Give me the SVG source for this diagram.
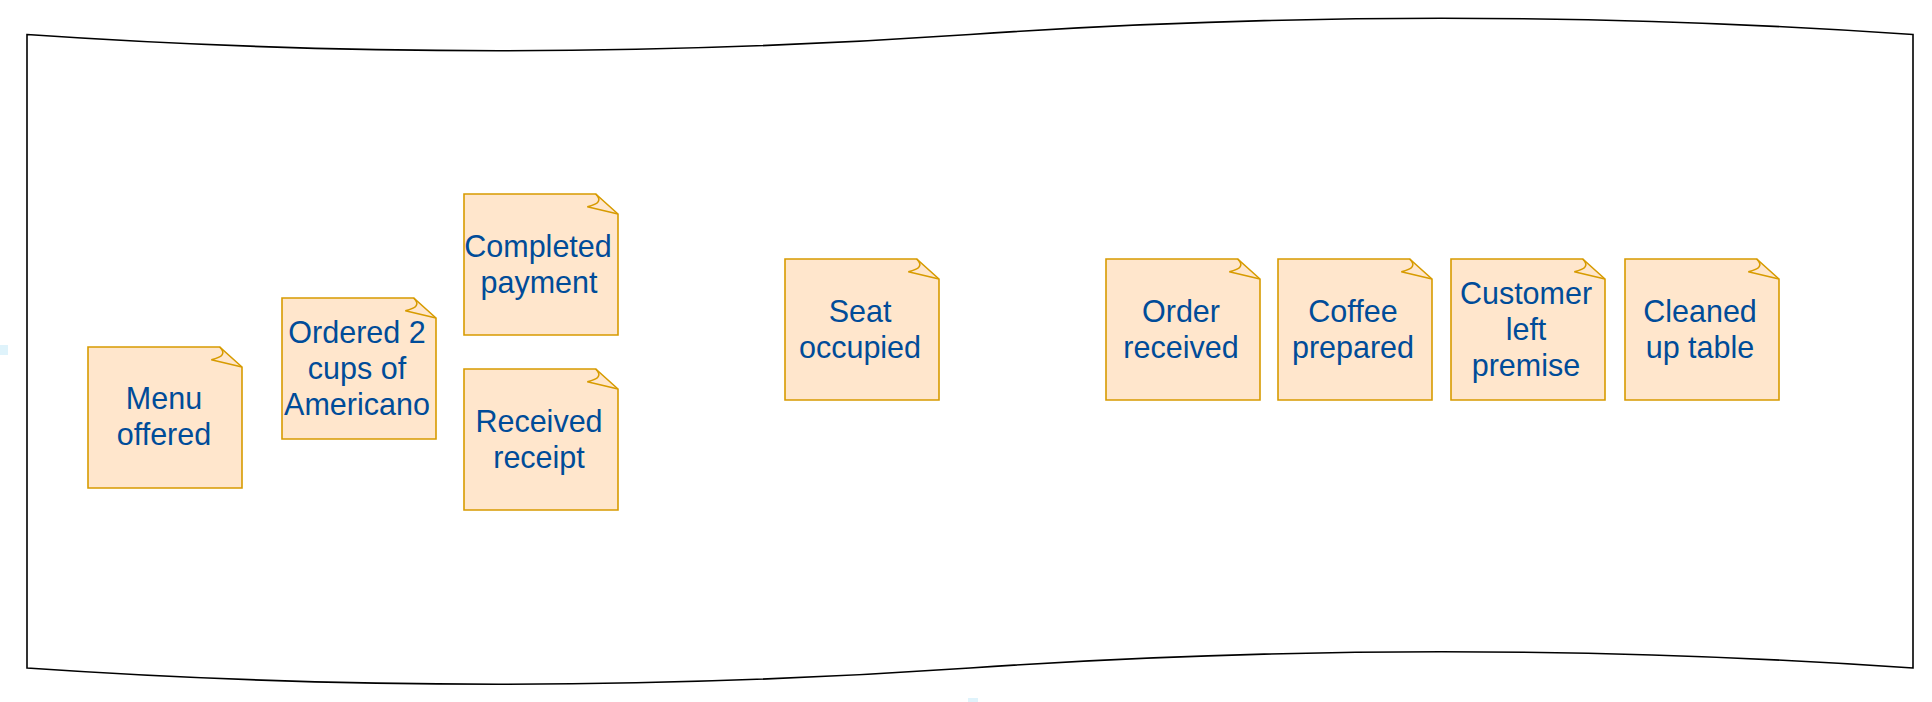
<svg xmlns="http://www.w3.org/2000/svg" width="1932" height="702" viewBox="0 0 1932 702">
<style>
.frame{fill:#ffffff;stroke:#000000;stroke-width:1.6}
.note{fill:#ffe6cc;stroke:#d79b00;stroke-width:1.6;stroke-linejoin:miter}
.fold{fill:none;stroke:#d79b00;stroke-width:1.6}
.lbl{font-family:"Liberation Sans",Arial,Helvetica,sans-serif;font-size:30.5px;fill:#004c99;text-anchor:middle}
.hint{fill:#dff3fb}
</style>
<defs>
<g id="noteShape">
<path class="note" d="M0,0 H131.7 L154,20 V141 H0 Z"/>
<path class="fold" d="M131.7,0 Q141,9 123.3,12.7 L154,20"/>
</g>
</defs>
<rect x="0" y="0" width="1932" height="702" fill="#ffffff"/>
<g id="frame">
<path class="frame" d="M27,34.5 Q498.5,66.9 970,34.5 Q1441.5,2.1 1913,34.5 L1913,668 Q1441.5,635.6 970,668 Q498.5,700.4 27,668 Z"/>
</g>
<rect class="hint" x="0" y="345" width="8" height="10"/>
<rect class="hint" x="968" y="698" width="10" height="4"/>
<g id="connectors"></g>
<g id="menu-offered">
<use href="#noteShape" x="88" y="347"/>
<text class="lbl" x="164" y="409">Menu</text>
<text class="lbl" x="164" y="445">offered</text>
</g>
<g id="ordered">
<use href="#noteShape" x="282" y="298"/>
<text class="lbl" x="357" y="343">Ordered 2</text>
<text class="lbl" x="357" y="379">cups of</text>
<text class="lbl" x="357" y="415">Americano</text>
</g>
<g id="completed-payment">
<use href="#noteShape" x="464" y="194"/>
<text class="lbl" x="538" y="257">Completed</text>
<text class="lbl" x="539" y="293">payment</text>
</g>
<g id="received-receipt">
<use href="#noteShape" x="464" y="369"/>
<text class="lbl" x="539" y="432">Received</text>
<text class="lbl" x="539" y="468">receipt</text>
</g>
<g id="seat-occupied">
<use href="#noteShape" x="785" y="259"/>
<text class="lbl" x="860" y="322">Seat</text>
<text class="lbl" x="860" y="358">occupied</text>
</g>
<g id="order-received">
<use href="#noteShape" x="1106" y="259"/>
<text class="lbl" x="1181" y="322">Order</text>
<text class="lbl" x="1181" y="358">received</text>
</g>
<g id="coffee-prepared">
<use href="#noteShape" x="1278" y="259"/>
<text class="lbl" x="1353" y="322">Coffee</text>
<text class="lbl" x="1353" y="358">prepared</text>
</g>
<g id="customer-left">
<use href="#noteShape" x="1451" y="259"/>
<text class="lbl" x="1526" y="304">Customer</text>
<text class="lbl" x="1526" y="340">left</text>
<text class="lbl" x="1526" y="376">premise</text>
</g>
<g id="cleaned-table">
<use href="#noteShape" x="1625" y="259"/>
<text class="lbl" x="1700" y="322">Cleaned</text>
<text class="lbl" x="1700" y="358">up table</text>
</g>
</svg>
